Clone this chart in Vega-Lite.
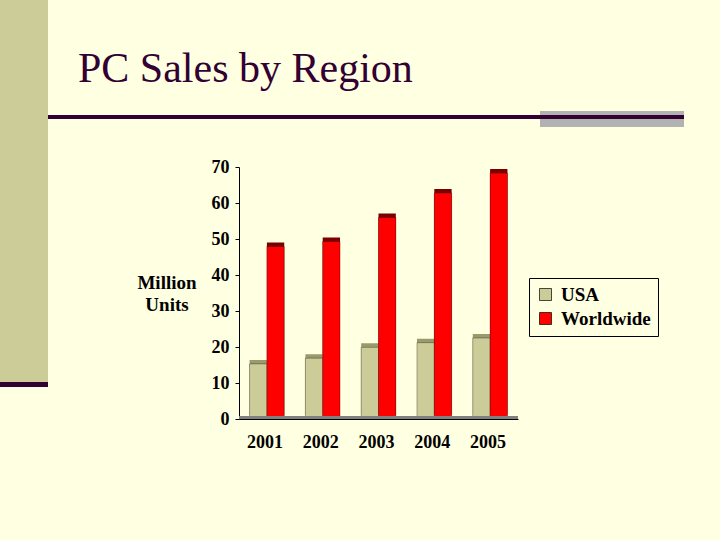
{
  "$schema": "https://vega.github.io/schema/vega-lite/v6.json",
  "background": "#FFFFE1",
  "padding": {"left": 0, "top": 0, "right": 36, "bottom": 98},
  "config": {
    "view": {"stroke": null},
    "axis": {"labelFont": "Liberation Serif", "labelFontWeight": "bold", "labelFontSize": 18, "labelColor": "#000000", "domainColor": "#000000", "tickColor": "#000000", "labelOverlap": false},
    "axisY": {"labelOverlap": false}
  },
  "spacing": 0,
  "hconcat": [
    {
      "width": 48,
      "height": 387,
      "data": {"values": []},
      "mark": {"type": "point", "opacity": 0},
      "view": {"stroke": null, "fill": {"gradient": "linear", "x1": 0, "y1": 0, "x2": 0, "y2": 1, "stops": [
        {"offset": 0, "color": "#CCCC99"}, {"offset": 0.987, "color": "#CCCC99"},
        {"offset": 0.987, "color": "#330033"}, {"offset": 1, "color": "#330033"}]}}
    },
    {
      "spacing": 0,
      "vconcat": [
        {
          "width": 1,
          "height": 48,
          "data": {"values": []},
          "mark": {"type": "point", "opacity": 0}
        },
        {
          "title": {"text": "PC Sales by Region", "anchor": "start", "dx": 30, "offset": -13, "baseline": "alphabetic", "font": "Liberation Serif", "fontSize": 42, "fontWeight": "normal", "color": "#330033"},
          "spacing": 0,
          "hconcat": [
            {
              "width": 492,
              "height": 16,
              "data": {"values": []},
              "mark": {"type": "point", "opacity": 0},
              "view": {"stroke": null, "fill": {"gradient": "linear", "x1": 0, "y1": 0, "x2": 0, "y2": 1, "stops": [
                {"offset": 0, "color": "#FFFFE1"}, {"offset": 0.25, "color": "#FFFFE1"},
                {"offset": 0.25, "color": "#330033"}, {"offset": 0.5, "color": "#330033"},
                {"offset": 0.5, "color": "#FFFFE1"}, {"offset": 1, "color": "#FFFFE1"}]}}
            },
            {
              "width": 144,
              "height": 16,
              "data": {"values": []},
              "mark": {"type": "point", "opacity": 0},
              "view": {"stroke": null, "fill": {"gradient": "linear", "x1": 0, "y1": 0, "x2": 0, "y2": 1, "stops": [
                {"offset": 0, "color": "#B2B2B2"}, {"offset": 0.25, "color": "#B2B2B2"},
                {"offset": 0.25, "color": "#330033"}, {"offset": 0.5, "color": "#330033"},
                {"offset": 0.5, "color": "#B2B2B2"}, {"offset": 1, "color": "#B2B2B2"}]}}
            }
          ]
        },
        {
          "width": 1,
          "height": 31,
          "data": {"values": []},
          "mark": {"type": "point", "opacity": 0}
        },
        {
          "spacing": 0,
          "hconcat": [
            {
              "width": 88,
              "height": 1,
              "data": {"values": []},
              "mark": {"type": "point", "opacity": 0}
            },
            {
              "width": 279,
              "height": 252,
              "data": {"values": [
                {"year": "2001", "region": "USA", "value": 15.3},
                {"year": "2002", "region": "USA", "value": 16.9},
                {"year": "2003", "region": "USA", "value": 19.9},
                {"year": "2004", "region": "USA", "value": 21.2},
                {"year": "2005", "region": "USA", "value": 22.5},
                {"year": "2001", "region": "Worldwide", "value": 47.9},
                {"year": "2002", "region": "Worldwide", "value": 49.3},
                {"year": "2003", "region": "Worldwide", "value": 56.0},
                {"year": "2004", "region": "Worldwide", "value": 62.8},
                {"year": "2005", "region": "Worldwide", "value": 68.3}
              ]},
              "encoding": {
                "x": {
                  "field": "year", "type": "nominal",
                  "scale": {"paddingInner": 0, "paddingOuter": 0},
                  "axis": {"title": null, "labelAngle": 0, "ticks": false, "labelOffset": -2, "labelPadding": 14}
                },
                "xOffset": {"field": "region", "type": "nominal", "scale": {"domain": ["USA", "Worldwide"], "paddingInner": 0, "paddingOuter": 0.61, "align": 0.5}},
                "y": {
                  "field": "value", "type": "quantitative",
                  "scale": {"domain": [0, 70], "nice": false},
                  "axis": {"values": [0, 10, 20, 30, 40, 50, 60, 70], "labelOverlap": false, "grid": false, "title": ["Million", "Units"], "titleAngle": 0, "titleAlign": "center", "titleBaseline": "middle", "titleX": -72.5, "titleY": 115, "titleFont": "Liberation Serif", "titleFontWeight": "bold", "titleFontSize": 19, "titleColor": "#000000", "titleLineHeight": 22, "tickSize": 4, "labelPadding": 6}
                }
              },
              "layer": [
                {
                  "mark": {"type": "bar", "xOffset": 5, "yOffset": -4, "y2Offset": -4},
                  "encoding": {
                    "color": {"field": "region", "type": "nominal", "scale": {"domain": ["USA", "Worldwide"], "range": ["#9A9A6C", "#7A0000"]}, "legend": null}
                  }
                },
                {
                  "mark": {"type": "bar", "stroke": "#000000", "strokeWidth": 0.5, "strokeOpacity": 0.6},
                  "encoding": {
                    "color": {
                      "field": "region", "type": "nominal",
                      "scale": {"domain": ["USA", "Worldwide"], "range": ["#CCCC99", "#FF0000"]},
                      "legend": {"title": null, "orient": "none", "legendX": 290, "legendY": 111, "direction": "vertical", "strokeColor": "#000000", "fillColor": "#FFFFE1", "padding": 7, "symbolType": "square", "symbolSize": 144, "symbolStrokeColor": "#000000", "symbolStrokeWidth": 0.7, "symbolOpacity": 1, "labelFont": "Liberation Serif", "labelFontWeight": "bold", "labelFontSize": 19, "labelColor": "#000000", "labelOffset": 6, "rowPadding": 4}
                    }
                  }
                },
                {
                  "mark": {"type": "rule", "color": "#808080", "strokeWidth": 3, "yOffset": -1.5},
                  "encoding": {"x": null, "xOffset": null, "y": {"datum": 0, "type": "quantitative"}}
                }
              ],
              "resolve": {"scale": {"color": "independent"}}
            }
          ]
        }
      ]
    }
  ]
}
